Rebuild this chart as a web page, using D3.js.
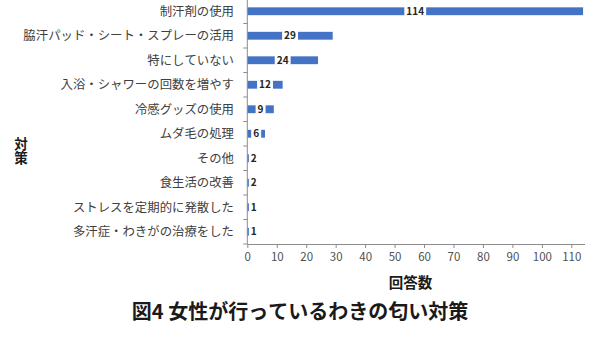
<!DOCTYPE html>
<html>
<head>
<meta charset="utf-8">
<script src="https://cdn.jsdelivr.net/npm/d3@7"></script>
<style>
  html, body { margin: 0; padding: 0; background: #fff; }
  svg { display: block; font-family: "Noto Sans CJK JP", "Noto Sans", sans-serif; font-kerning: none; font-feature-settings: "kern" 0, "palt" 0; }
</style>
</head>
<body>
<svg id="chart" width="600" height="337"></svg>
<script>
// Survey categories (top to bottom) and number of responses
const categories = [
  "制汗剤の使用",
  "脇汗パッド・シート・スプレーの活用",
  "特にしていない",
  "入浴・シャワーの回数を増やす",
  "冷感グッズの使用",
  "ムダ毛の処理",
  "その他",
  "食生活の改善",
  "ストレスを定期的に発散した",
  "多汗症・わきがの治療をした"
];
const counts = [114, 29, 24, 12, 9, 6, 2, 2, 1, 1];
const xTicks = [0, 10, 20, 30, 40, 50, 60, 70, 80, 90, 100, 110];

const title = "図4 女性が行っているわきの匂い対策";
const xTitle = "回答数";
const yTitle = "対策";

const svg = d3.select("#chart");
const axisColor = "#8c8c8c";
const barColor = "#4472C4";

const x = d3.scaleLinear().domain([0, 110]).range([247.3, 571.3]);
const y = d3.scaleBand().domain(categories).range([-1, 244]).paddingInner(0.68).paddingOuter(0.34);
const band = d3.scaleBand().domain(categories).range([-1, 244]);

// bars
svg.append("g").selectAll("rect").data(categories).join("rect")
  .attr("x", x(0))
  .attr("y", d => y(d))
  .attr("width", (d, i) => x(counts[i]) - x(0))
  .attr("height", y.bandwidth())
  .attr("fill", barColor);

// value labels with white backing
const lab = svg.append("g").selectAll("g").data(categories).join("g")
  .attr("transform", (d, i) => {
    const cx = Math.max((x(0) + x(counts[i])) / 2, x(0) + 6.5);
    return `translate(${cx},${band(d) + band.bandwidth() / 2})`;
  });
lab.append("text")
  .attr("text-anchor", "middle")
  .attr("dy", "0.36em")
  .attr("font-size", 10)
  .attr("font-weight", "bold")
  .attr("fill", "#262626")
  .text((d, i) => counts[i]);
lab.each(function () {
  const g = d3.select(this);
  const bb = g.select("text").node().getBBox();
  g.insert("rect", "text")
    .attr("x", bb.x - 2).attr("y", -y.bandwidth() / 2 - 0.5)
    .attr("width", bb.width + 4).attr("height", y.bandwidth() + 1)
    .attr("fill", "#fff");
});

// left axis: line plus band-boundary ticks
const left = svg.append("g");
left.append("line")
  .attr("x1", x(0)).attr("x2", x(0)).attr("y1", -1).attr("y2", 244)
  .attr("stroke", axisColor);
left.selectAll("line.t").data(d3.range(categories.length + 1)).join("line")
  .attr("class", "t")
  .attr("x1", x(0) - 4).attr("x2", x(0))
  .attr("y1", i => -1 + i * band.step()).attr("y2", i => -1 + i * band.step())
  .attr("stroke", axisColor);
left.selectAll("text").data(categories).join("text")
  .attr("x", 234)
  .attr("y", d => band(d) + band.bandwidth() / 2)
  .attr("dy", "0.35em")
  .attr("text-anchor", "end")
  .attr("font-size", 12.4)
  .attr("fill", "#404040")
  .text(d => d);

// bottom axis
const bottom = svg.append("g").attr("transform", "translate(0,244)")
  .call(d3.axisBottom(x).tickValues(xTicks).tickSize(4).tickSizeOuter(0).tickPadding(5));
bottom.select(".domain").attr("d", `M${x(0)},0.5H585`).attr("stroke", axisColor);
bottom.selectAll(".tick line").attr("stroke", axisColor);
bottom.selectAll(".tick text")
  .attr("font-size", 11.5).attr("fill", "#505050")
  .attr("font-family", "'Noto Sans CJK JP', sans-serif");

// axis titles
svg.append("text")
  .attr("x", 410.6).attr("y", 283).attr("dy", "0.35em")
  .attr("text-anchor", "middle")
  .attr("font-size", 14.5).attr("font-weight", "bold").attr("fill", "#1a1a1a")
  .text(xTitle);
svg.append("text")
  .attr("transform", "translate(21,151)")
  .attr("writing-mode", "vertical-rl")
  .attr("text-anchor", "middle")
  .attr("font-size", 13.5).attr("font-weight", "bold").attr("fill", "#1a1a1a")
  .style("letter-spacing", "0.5px")
  .text(yTitle);

// chart title
svg.append("text")
  .attr("x", 300).attr("y", 312).attr("dy", "0.35em")
  .attr("text-anchor", "middle")
  .attr("font-size", 20).attr("font-weight", "bold").attr("fill", "#1a1a1a")
  .text(title);
</script>
</body>
</html>
